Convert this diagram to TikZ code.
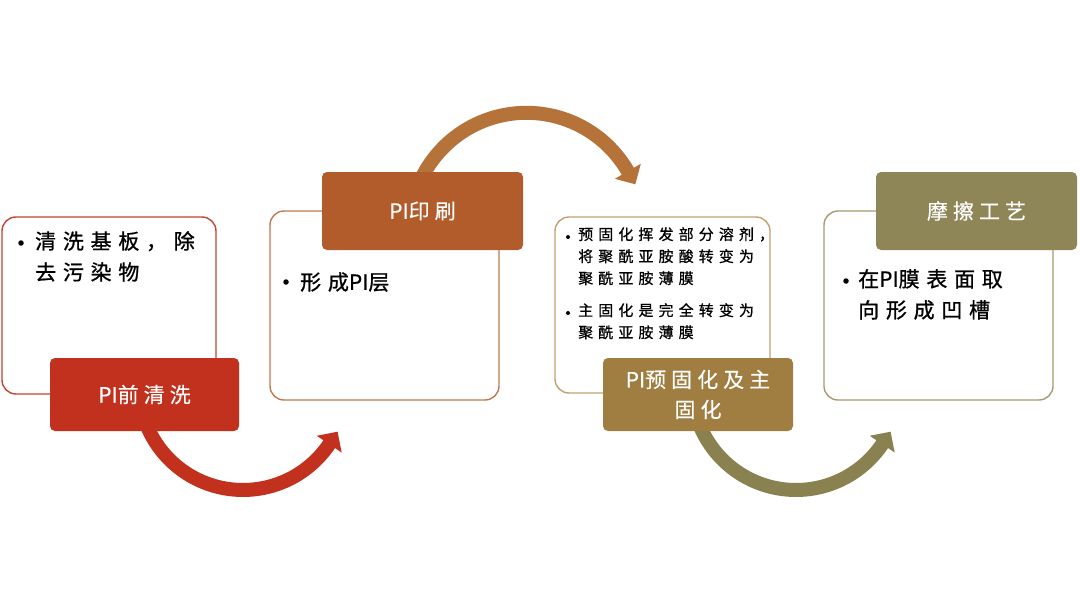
\documentclass[tikz,border=0pt]{standalone}
\usepackage{fontspec}
\newfontfamily\cjkbig[LetterSpace=32,FakeBold=0.9]{Noto Sans CJK SC}
\newfontfamily\cjklab[LetterSpace=24,FakeBold=0.4]{Noto Sans CJK SC}
\newfontfamily\cjksmall[LetterSpace=34,FakeBold=0.7]{Noto Sans CJK SC}
\newfontfamily\latn[FakeBold=0.4]{Noto Sans CJK SC}
\newcommand{\PI}{{\latn PI}}
\usetikzlibrary{arrows.meta}
\definecolor{c1}{HTML}{C1311D}
\definecolor{c1b}{HTML}{C44432}
\definecolor{c2}{HTML}{B25B2B}
\definecolor{c2b}{HTML}{C07A50}
\definecolor{a2}{HTML}{B5733A}
\definecolor{c3}{HTML}{A07D40}
\definecolor{c3b}{HTML}{C4A070}
\definecolor{a3}{HTML}{8A8150}
\definecolor{c4}{HTML}{8F8658}
\definecolor{c4b}{HTML}{A89A70}
\tikzset{
  outline/.style={draw, line width=1.4pt, rounded corners=14pt, fill=white, inner sep=0pt},
  labelbox/.style={rounded corners=5pt, text=white, inner sep=0pt, align=center,
    font={\cjklab\fontsize{21}{30}\selectfont}},
  bigtext/.style={inner sep=0pt, align=left, text=black,
    font={\cjkbig\fontsize{21}{31}\selectfont}},
  smalltext/.style={inner sep=0pt, align=left, text=black,
    font={\cjksmall\fontsize{15}{22}\selectfont}},
  bigdot/.style={circle, fill=black, inner sep=0pt, minimum size=5.5pt},
  smalldot/.style={circle, fill=black, inner sep=0pt, minimum size=4pt},
  band/.style={line width=14pt},
}
\begin{document}
\begin{tikzpicture}[x=1pt,y=-1pt]
\useasboundingbox[fill=white] (0,0) rectangle (1080,613);
% outline panels
\node[outline, draw=c1b, minimum width=214pt, minimum height=177pt] (o1) at (109,305.5) {};
\node[outline, draw=c2b, minimum width=229pt, minimum height=189pt] (o2) at (384.5,305.5) {};
\node[outline, draw=c3b, minimum width=215pt, minimum height=176pt] (o3) at (662.5,305) {};
\node[outline, draw=c4b, minimum width=229pt, minimum height=189pt] (o4) at (938.5,305.5) {};
% curved arrow 1 (decreasing angle), centre (243,386), r=104, end t=34
\draw[band, c1] plot[domain=160:33, samples=60, smooth] ({243+104*cos(\x)},{386+104*sin(\x)});
\fill[c1] ({243+119*cos(34)},{386+119*sin(34)}) -- ({243+89*cos(34)},{386+89*sin(34)})
  -- ({243+104*cos(34)+15*sin(34)},{386+104*sin(34)-15*cos(34)}) -- cycle;
% curved arrow 2 (increasing angle), centre (526.5,229.8), r=117, end t=330
\draw[band, a2] plot[domain=205:331, samples=60, smooth] ({526.5+117*cos(\x)},{229.8+117*sin(\x)});
\fill[a2] ({526.5+132*cos(330)},{229.8+132*sin(330)}) -- ({526.5+102*cos(330)},{229.8+102*sin(330)})
  -- ({526.5+117*cos(330)-15*sin(330)},{229.8+117*sin(330)+15*cos(330)}) -- cycle;
% curved arrow 3 (decreasing angle), centre (796,386), r=104, end t=34
\draw[band, a3] plot[domain=160:33, samples=60, smooth] ({796+104*cos(\x)},{386+104*sin(\x)});
\fill[a3] ({796+119*cos(34)},{386+119*sin(34)}) -- ({796+89*cos(34)},{386+89*sin(34)})
  -- ({796+104*cos(34)+15*sin(34)},{386+104*sin(34)-15*cos(34)}) -- cycle;
% labels
\node[labelbox, fill=c1, minimum width=189pt, minimum height=73pt] (l1) at (144.5,394.5) {\PI 前清洗};
\node[labelbox, fill=c2, minimum width=201pt, minimum height=78pt] (l2) at (422.5,211) {\PI 印刷};
\node[labelbox, fill=c3, minimum width=190pt, minimum height=73pt] (l3) at (698,394.5) {\PI 预固化及主\\固化};
\node[labelbox, fill=c4, minimum width=201pt, minimum height=78pt] (l4) at (976.5,211) {摩擦工艺};
% panel 1 text
\node[bigdot] (d1) at (21,243) {};
\node[bigtext, anchor=north west] (t1) at (35,231) {清洗基板，除\\去污染物};
% panel 2 text
\node[bigdot] (d2) at (286,282) {};
\node[bigtext, anchor=west] (t2) at (300,282) {形成{\latn\fontsize{21}{31}\selectfont PI}层};
% panel 3 text
\node[smalldot] (d3a) at (568,237) {};
\node[smalltext, anchor=north west] (t3a) at (578,227) {预固化挥发部分溶剂，\\将聚酰亚胺酸转变为\\聚酰亚胺薄膜};
\node[smalldot] (d3b) at (568,313) {};
\node[smalltext, anchor=north west] (t3b) at (578,303) {主固化是完全转变为\\聚酰亚胺薄膜};
% panel 4 text
\node[bigdot] (d4) at (846,281) {};
\node[bigtext, anchor=north west] (t4) at (858,269) {在{\latn\fontsize{21}{31}\selectfont PI}膜表面取\\向形成凹槽};
\end{tikzpicture}
\end{document}
